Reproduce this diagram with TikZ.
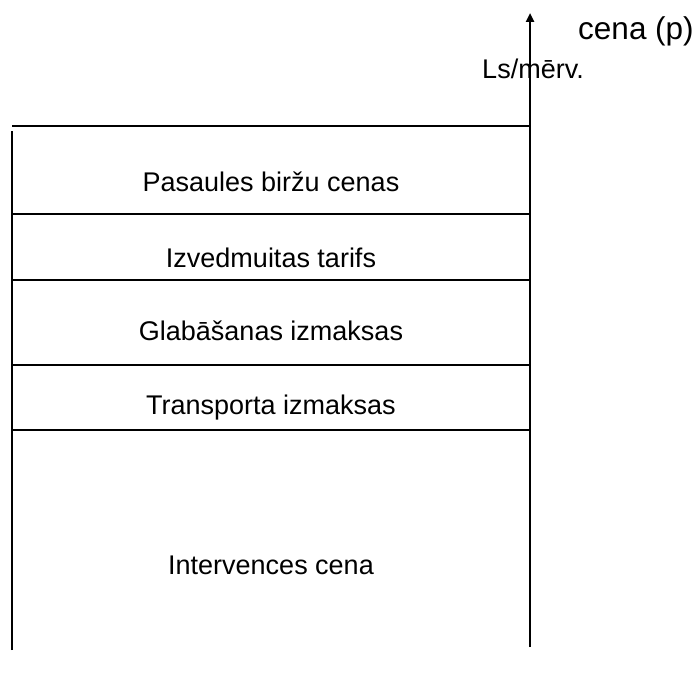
\documentclass[tikz,border=0pt]{standalone}
\usepackage{fontspec}
\setmainfont{Liberation Sans}
\usetikzlibrary{arrows.meta}
\begin{document}
\begin{tikzpicture}[x=1pt,y=-1pt,line width=2.5pt,
	band/.style={font=\fontsize{27}{32}\selectfont,inner sep=0pt},
	axislabel/.style={font=\fontsize{31.5}{37}\selectfont,inner sep=0pt}]
	\useasboundingbox (0,0) rectangle (696,676); %page
	
	%axis points
	\coordinate (axisbot) at (530,647);
	\coordinate (axistop) at (530,13);
	\coordinate (leftbot) at (12,650);
	\coordinate (lefttop) at (12,131);
	
	%axies
	\draw[-{Triangle[length=9pt,width=8pt]}] (axisbot) -- (axistop); %price axis
	\draw (leftbot) -- (lefttop); %left side
	\node[axislabel] (cena) at (636,31) {cena (p)}; %axis title
	\node[band] (unit) at (533,69) {Ls/mērv.}; %unit label
	
	%bands-----------------------------------------------
	\foreach \name/\y in {top/126,b1/214,b2/280,b3/365,b4/430}{
		\coordinate (\name L) at (12,\y);
		\coordinate (\name R) at (530,\y);
		\draw (\name L) -- (\name R); %band edge
	}
	\node[band] (world) at (271,182) {Pasaules biržu cenas}; %world price
	\node[band] (tariff) at (271,258) {Izvedmuitas tarifs}; %export tariff
	\node[band] (storage) at (271,331) {Glabāšanas izmaksas}; %storage costs
	\node[band] (transport) at (271,408) {Transporta izmaksas}; %transport costs
	\node[band] (interv) at (271,565) {Intervences cena}; %intervention price
\end{tikzpicture}
\end{document}
